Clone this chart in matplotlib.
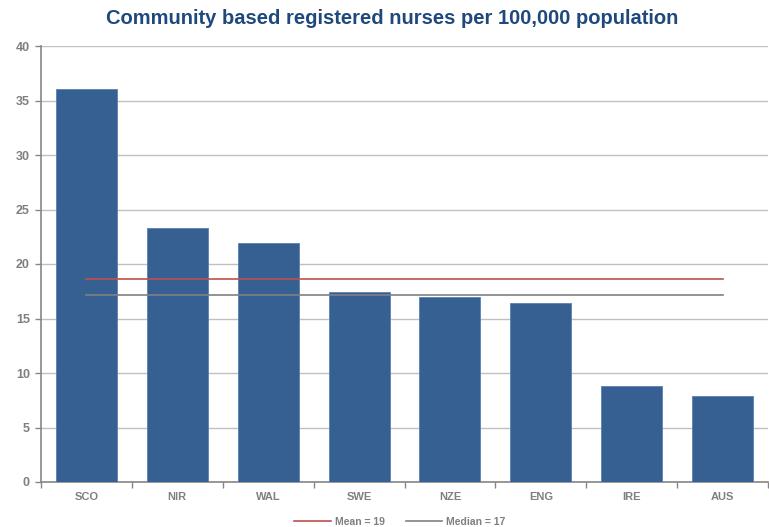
import matplotlib
matplotlib.use("Agg")
import matplotlib.pyplot as plt
import numpy as np

categories = ["SCO", "NIR", "WAL", "SWE", "NZE", "ENG", "IRE", "AUS"]
values = [36.1, 23.3, 21.9, 17.4, 17.0, 16.4, 8.8, 7.9]
mean_val = 18.6
median_val = 17.2
yticks = [0, 5, 10, 15, 20, 25, 30, 35, 40]

plt.rcParams['font.family'] = ['Liberation Sans', 'DejaVu Sans']
fig = plt.figure(figsize=(7.69, 5.27), dpi=100)
ax = fig.add_axes([41/769, 45/527, 727/769, 436/527])

x = np.arange(len(categories))
ax.bar(x, values, width=0.67, color='#366092', edgecolor='#5a80b0', linewidth=0.6, zorder=3)
ax.plot([x[0], x[-1]], [mean_val, mean_val], color='#c0504d', lw=1.2, zorder=4, label='Mean = 19')
ax.plot([x[0], x[-1]], [median_val, median_val], color='#808080', lw=1.2, zorder=4, label='Median = 17')

ax.set_xlim(-0.5, len(categories) - 0.5)
ax.set_ylim(0, 40)
ax.set_yticks(yticks)
ax.set_yticklabels([str(t) for t in yticks], fontsize=9, fontweight='bold', color='#7f7f7f')
ax.yaxis.grid(True, color='#c0c0c0', lw=1.0, zorder=0)
ax.set_xticks(x)
ax.set_xticklabels(categories, fontsize=8, fontweight='bold', color='#7f7f7f')
ax.tick_params(axis='x', length=0, pad=7)
ax.set_xticks(np.arange(-0.5, len(categories)), minor=True)
ax.tick_params(axis='x', which='minor', length=4, color='#868686', width=1)
ax.tick_params(axis='y', length=4, color='#868686', width=1, pad=4)
for s in ['top', 'right']:
    ax.spines[s].set_visible(False)
for s in ['left', 'bottom']:
    ax.spines[s].set_color('#868686')
    ax.spines[s].set_linewidth(1.2)

fig.suptitle('Community based registered nurses per 100,000 population', x=0.51, y=0.983,
             fontsize=14.5, fontweight='bold', color='#1f497d')

leg = fig.legend(loc='lower center', bbox_to_anchor=(0.52, -0.018), ncol=2, frameon=False,
                 fontsize=7.5, handlelength=3.5, columnspacing=2.0, handletextpad=0.4)
for t in leg.get_texts():
    t.set_color('#7f7f7f')
    t.set_fontweight('bold')

fig.savefig('out.png', dpi=100)
